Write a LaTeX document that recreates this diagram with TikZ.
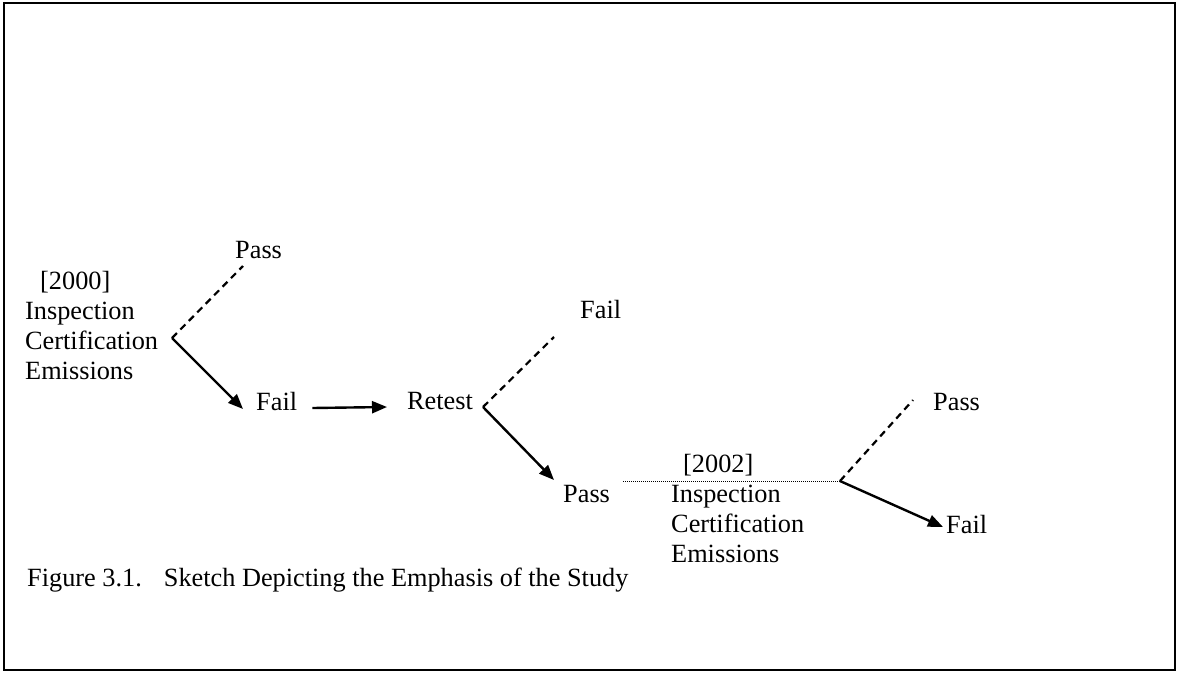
\documentclass[tikz,border=0pt]{standalone}
\usepackage{fontspec}
\setmainfont{Liberation Serif}
\usetikzlibrary{arrows.meta}

\begin{document}
\begin{tikzpicture}[x=1pt,y=1pt,
  arr/.style={black,line width=2.4pt,-{Triangle[length=15pt,width=12pt]}},
  dashbranch/.style={black,line width=2.2pt,dash pattern=on 7pt off 5pt},
  dotlink/.style={black,line width=1pt,dash pattern=on 1pt off 1pt}]
\tikzstyle{every node}+=[inner sep=0pt,anchor=base west,align=left,font=\fontsize{26.3}{30}\selectfont]
\useasboundingbox (0,0) rectangle (1177,-672);
\draw [black,line width=2pt] (4,-3) rectangle (1175,-670);
\node (year0) at (25,-379) {\hspace*{15pt}[2000]\\Inspection\\Certification\\Emissions};
\node (pass0) at (235,-258) {Pass};
\node (fail0) at (256,-410) {Fail};
\node (retest) at (407,-409) {Retest};
\node (fail1) at (580,-318) {Fail};
\node (pass1) at (563,-502) {Pass};
\node (year2) at (671,-562) {\hspace*{12pt}[2002]\\Inspection\\Certification\\Emissions};
\node (pass2) at (933,-410) {Pass};
\node (fail2) at (946,-533) {Fail};
\node (caption) at (27,-586) {Figure 3.1.\hspace{22pt}Sketch Depicting the Emphasis of the Study};
\coordinate (v0) at (172,-338);
\coordinate (p0end) at (243,-266);
\coordinate (f0tip) at (243,-409);
\draw [dashbranch] (v0) -- (p0end);
\draw [arr] (v0) -- (f0tip);
\draw [arr] ([xshift=15pt,yshift=2pt]fail0.base east) -- ([xshift=-20pt,yshift=2pt]retest.base west);
\coordinate (v1) at (483,-407);
\coordinate (f1end) at (554,-337);
\coordinate (p1tip) at (554,-480);
\draw [dashbranch] (v1) -- (f1end);
\draw [arr] (v1) -- (p1tip);
\coordinate (d0) at (623,-481);
\coordinate (v2) at (840,-481);
\draw [dotlink] (d0) -- (v2);
\coordinate (p2end) at (913,-400);
\coordinate (f2tip) at (943,-527);
\draw [dashbranch] (v2) -- (p2end);
\draw [arr] (v2) -- (f2tip);
\end{tikzpicture}
\end{document}
